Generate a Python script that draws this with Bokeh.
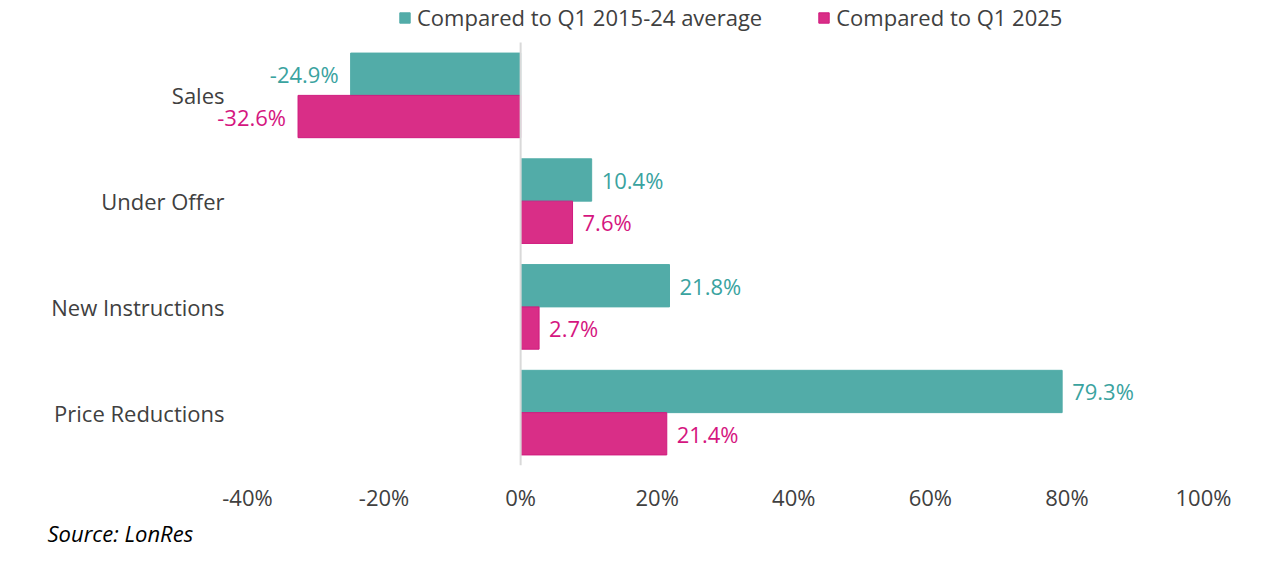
from bokeh.plotting import figure
from bokeh.models import ColumnDataSource, Range1d, Legend, LegendItem, Title, FixedTicker
from bokeh.core.properties import value
from bokeh.embed import file_html
from bokeh.resources import INLINE

categories = ["Sales", "Under Offer", "New Instructions", "Price Reductions"]
vs_avg = [-24.9, 10.4, 21.8, 79.3]
vs_q1_2025 = [-32.6, 7.6, 2.7, 21.4]
x_ticks = [-40, -20, 0, 20, 40, 60, 80, 100]
series_names = ["Compared to Q1 2015-24 average", "Compared to Q1 2025"]
source_note = "Source: LonRes"

TEAL = "#52ACA8"
MAGENTA = "#D92E87"
TEAL_TXT = "#3AA39F"
MAG_TXT = "#D5167F"
GREY = "#404040"
FONT = "Open Sans"
FS = "22px"

W, H = 1264, 549
PX_PER_PCT = 956 / 140.0
X0_PAGE = 247  # page x of -40%

def fmt(v):
    return f"{v:.1f}%"

n = len(categories)
ypos = [n - i - 0.5 for i in range(n)]

src = ColumnDataSource(dict(
    cat=categories,
    y=ypos,
    ya=[y + 0.2 for y in ypos],
    yb=[y - 0.2 for y in ypos],
    a=vs_avg,
    b=vs_q1_2025,
    a_lbl=[fmt(v) for v in vs_avg],
    b_lbl=[fmt(v) for v in vs_q1_2025],
    a_align=["left" if v >= 0 else "right" for v in vs_avg],
    b_align=["left" if v >= 0 else "right" for v in vs_q1_2025],
    a_off=[10 if v >= 0 else -12 for v in vs_avg],
    b_off=[10 if v >= 0 else -12 for v in vs_q1_2025],
))

x_start = x_ticks[0] - X0_PAGE / PX_PER_PCT
x_end = x_start + W / PX_PER_PCT
band_px = 423.0 / n
top_extra = 42.0 / band_px

p = figure(width=W, height=H, output_backend="svg", toolbar_location=None,
           x_range=Range1d(x_start, x_end), y_range=Range1d(0, n + top_extra))
p.min_border_left = 0
p.min_border_right = 0
p.min_border_top = 0
p.min_border_bottom = 0
p.outline_line_color = None
p.grid.grid_line_color = None
p.yaxis.visible = False

ra = p.hbar(y="ya", right="a", left=0, height=0.4, source=src,
            fill_color=TEAL, line_color=TEAL)
rb = p.hbar(y="yb", right="b", left=0, height=0.4, source=src,
            fill_color=MAGENTA, line_color="#D01A7E")

p.segment(x0=0, y0=0, x1=0, y1=n, line_color="#D9D9D9", line_width=2)

p.text(x="a", y="ya", text="a_lbl", source=src, x_offset="a_off",
       text_align="a_align", text_baseline="middle", text_color=TEAL_TXT,
       text_font=value(FONT), text_font_size=FS)
p.text(x="b", y="yb", text="b_lbl", source=src, x_offset="b_off",
       text_align="b_align", text_baseline="middle", text_color=MAG_TXT,
       text_font=value(FONT), text_font_size=FS)

# category labels (left of the bars)
p.text(x=x_start, y="y", text="cat", source=src, x_offset=224,
       text_align="right", text_baseline="middle", text_color=GREY,
       text_font=value(FONT), text_font_size=FS)

xa = p.xaxis[0]
xa.ticker = FixedTicker(ticks=x_ticks)
xa.major_label_overrides = {t: f"{t}%" for t in x_ticks}
xa.axis_line_color = None
xa.major_tick_line_color = None
xa.minor_tick_line_color = None
xa.major_tick_out = 0
xa.major_tick_in = 0
xa.major_label_standoff = 16
xa.major_label_text_font = FONT
xa.major_label_text_font_size = FS
xa.major_label_text_color = GREY

legend = Legend(items=[LegendItem(label=series_names[0], renderers=[ra]),
                       LegendItem(label=series_names[1], renderers=[rb])],
                orientation="horizontal", location=(398, 433),
                padding=0, margin=0, spacing=55, label_standoff=6,
                glyph_width=13, glyph_height=13,
                label_text_font=FONT, label_text_font_size=FS,
                label_text_color=GREY, border_line_color=None,
                background_fill_alpha=0)
p.add_layout(legend, "center")

p.add_layout(Title(text=source_note, align="left", offset=47, standoff=3,
                   text_font=FONT, text_font_style="italic",
                   text_font_size=FS, text_color="#000000"), "below")

open("out.html", "w").write(file_html(p, INLINE))
